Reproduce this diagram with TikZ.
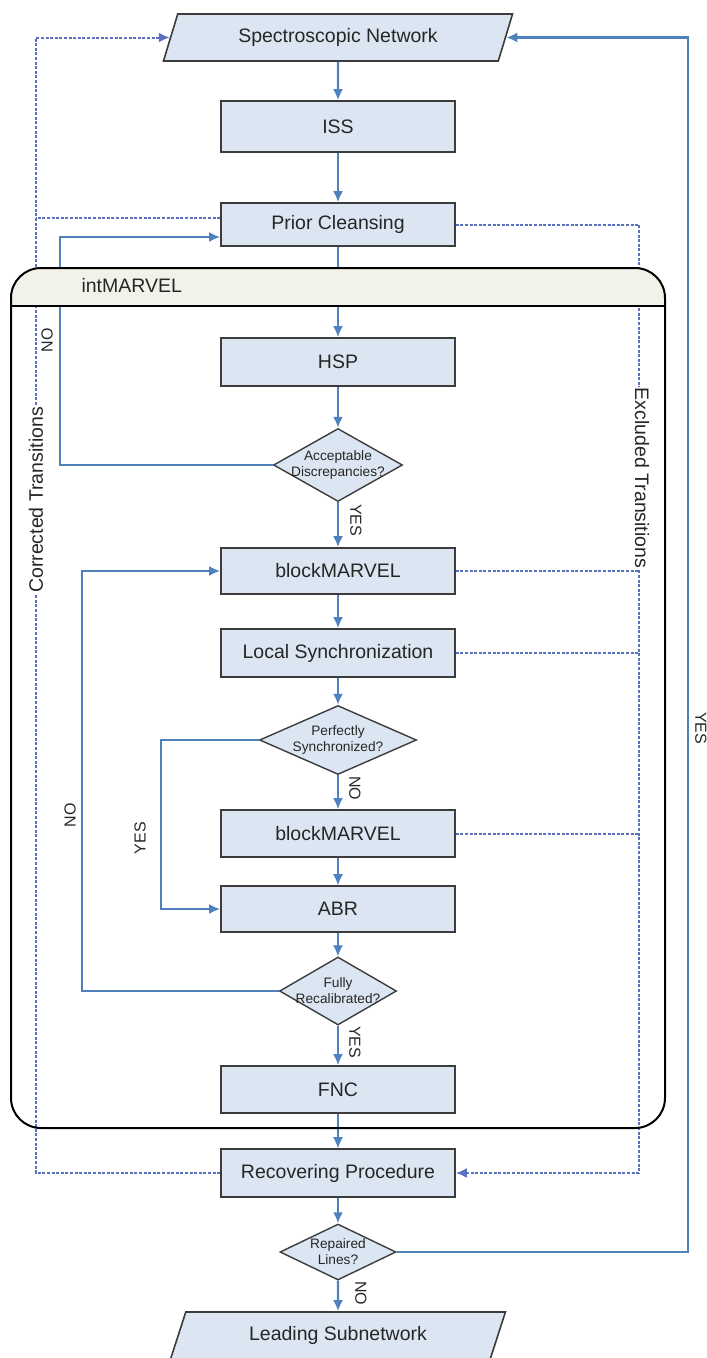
\documentclass[tikz,border=0pt]{standalone}
\usepackage{fontspec}
\setmainfont{Liberation Sans}
\usetikzlibrary{arrows.meta,shapes.geometric,calc}

\definecolor{flowblue}{RGB}{79,129,189}
\definecolor{exblue}{RGB}{92,112,192}
\definecolor{boxfill}{RGB}{220,230,242}
\definecolor{boxline}{RGB}{60,60,60}
\definecolor{headfill}{RGB}{242,242,234}
\definecolor{txt}{RGB}{38,38,38}

\begin{document}
\begin{tikzpicture}[x=1pt,y=-1pt]
        \tikzstyle{every node}=[text=txt]
        \tikzstyle{proc}=[draw=boxline,fill=boxfill,line width=1.6pt,minimum width=234pt,inner sep=0pt,font=\fontsize{19.5}{23}\selectfont]
        \tikzstyle{io}=[trapezium,trapezium left angle=64,trapezium right angle=116,trapezium stretches=true,draw=boxline,fill=boxfill,line width=1.6pt,minimum height=47pt,inner sep=0pt,font=\fontsize{19.5}{23}\selectfont]
        \tikzstyle{decide}=[diamond,draw=boxline,fill=boxfill,line width=1.4pt,inner sep=0pt]
        \tikzstyle{dtext}=[align=center,inner sep=0pt,font=\fontsize{13.7}{16}\selectfont]
        \tikzstyle{flow}=[color=flowblue,line width=2.2pt,-{Latex[length=11pt,width=10pt]}]
        \tikzstyle{excl}=[color=exblue,line width=2pt,dash pattern=on 3pt off 1.6pt]
        \tikzstyle{lbl}=[font=\fontsize{16}{18}\selectfont,inner sep=0pt]
        \tikzstyle{side}=[font=\fontsize{19.5}{23}\selectfont,fill=white,inner sep=1pt]
        \useasboundingbox (0,0) rectangle (707,1358);

        %%% boxes
        \node[io,minimum width=350pt] (spec) at (338,37.5) {Spectroscopic Network};
        \node[proc,minimum height=51pt] (iss) at (338,126.5) {ISS};
        \node[proc,minimum height=43pt] (prior) at (338,224.5) {Prior Cleansing};
        \node[proc,minimum height=48pt] (hsp) at (338,362) {HSP};
        \node[decide,minimum width=129pt,minimum height=73pt,label={[dtext]center:Acceptable\\Discrepancies?}] (accept) at (338,465) {};
        \node[proc,minimum height=46pt] (bm1) at (338,571) {blockMARVEL};
        \node[proc,minimum height=48pt] (lsync) at (338,653) {Local Synchronization};
        \node[decide,minimum width=157pt,minimum height=69pt,label={[dtext]center:Perfectly\\Synchronized?}] (perf) at (338,740) {};
        \node[proc,minimum height=47pt] (bm2) at (338,833.5) {blockMARVEL};
        \node[proc,minimum height=46pt] (abr) at (338,909) {ABR};
        \node[decide,minimum width=117pt,minimum height=68pt,label={[dtext]center:Fully\\Recalibrated?}] (fully) at (338,991) {};
        \node[proc,minimum height=47pt] (fnc) at (338,1089.5) {FNC};
        \node[proc,minimum height=48pt] (recov) at (338,1173) {Recovering Procedure};
        \node[decide,minimum width=116pt,minimum height=56pt,label={[dtext]center:Repaired\\Lines?}] (rep) at (338,1252) {};
        \node[io,minimum width=335pt] (lead) at (338,1335.5) {Leading Subnetwork};

        \coordinate (cl) at (36,0);
        \coordinate (nl1) at (60,0);
        \coordinate (nl2) at (82,0);
        \coordinate (yl) at (161,0);
        \coordinate (cr) at (639,0);
        \coordinate (yr) at (688,0);

        %%% main flow
        \draw[flow] (spec) edge (iss);
        \draw[flow] (iss) edge (prior);
        \draw[flow] (prior) edge (hsp);
        \draw[flow] (hsp) edge (accept);
        \draw[flow] (accept) edge (bm1);
        \draw[flow] (bm1) edge (lsync);
        \draw[flow] (lsync) edge (perf);
        \draw[flow] (perf) edge (bm2);
        \draw[flow,line width=1.3pt] (bm2) edge (abr);
        \draw[flow,line width=1.3pt] (abr) edge (fully);
        \draw[flow] (fully) edge (fnc);
        \draw[flow,line width=1.3pt] (fnc) edge (recov);
        \draw[flow] (recov) edge (rep);
        \draw[flow] (rep) edge (lead);

        %%% loops
        \draw[flow] (accept.west) -- (accept.west -| nl1) |- ([yshift=-12.5pt]prior.west);
        \draw[flow] (fully.west) -- (fully.west -| nl2) |- (bm1.west);
        \draw[flow] (perf.west) -- (perf.west -| yl) |- (abr.west);
        \draw[flow] (rep.east) -- (rep.east -| yr) |- (spec.east);

        %%% corrected / excluded
        \draw[excl,-{Latex[length=11pt,width=10pt]}] (recov.west) -- (recov.west -| cl) -- (spec.west -| cl) -- (spec.west);
        \draw[excl] ([yshift=6.5pt]prior.west) -- ([yshift=6.5pt]prior.west -| cl);
        \draw[excl,-{Latex[length=11pt,width=10pt]}] (prior.east) -- (prior.east -| cr) -- (recov.east -| cr) -- (recov.east);
        \draw[excl] (bm1.east) -- (bm1.east -| cr);
        \draw[excl] (lsync.east) -- (lsync.east -| cr);
        \draw[excl] (bm2.east) -- (bm2.east -| cr);

        %%% intMARVEL
        \begin{scope}
            \clip (11,268) rectangle (665,306);
            \fill[headfill,rounded corners=30pt] (11,268) rectangle (665,1128);
        \end{scope}
        \node[draw=black,line width=2pt,rounded corners=30pt,minimum width=654pt,minimum height=860pt,inner sep=0pt,outer sep=0pt] (intm) at (338,698) {};
        \draw[black,line width=1.8pt] ([yshift=-38pt]intm.north west) -- ([yshift=-38pt]intm.north east);
        \node[anchor=west,font=\fontsize{19.5}{23}\selectfont] (intmlbl) at (78,286) {intMARVEL};

        %%% labels
        \node[side,rotate=90] (corrtxt) at (36,500) {Corrected Transitions};
        \node[side,rotate=-90] (excltxt) at (642,478) {Excluded Transitions};
        \node[lbl,rotate=90] (no1) at (47,340) {NO};
        \node[lbl,rotate=-90] (yes1) at (356,520) {YES};
        \node[lbl,rotate=90] (no2) at (70,815) {NO};
        \node[lbl,rotate=90] (yes2) at (140,838) {YES};
        \node[lbl,rotate=-90] (no3) at (355,788) {NO};
        \node[lbl,rotate=-90] (yes3) at (355,1042) {YES};
        \node[lbl,rotate=-90] (no4) at (361,1293) {NO};
        \node[lbl,rotate=-90] (yes4) at (701,728) {YES};
\end{tikzpicture}
\end{document}
